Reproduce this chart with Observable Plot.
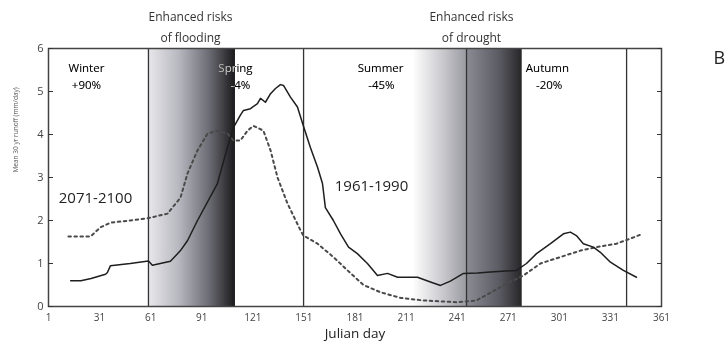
<!DOCTYPE html>
<html>
<head>
<meta charset="utf-8">
<script src="https://cdn.jsdelivr.net/npm/d3@7"></script>
<script src="https://cdn.jsdelivr.net/npm/@observablehq/plot@0.6"></script>
<style>
  body { margin: 0; background: white; }
  #chart svg { display: block; background: white; }
</style>
</head>
<body>
<div id="chart"></div>
<script>
// Julian day and mean 30-yr runoff (mm/day), 1961-1990 (solid)
const baseDays = [14, 20, 26, 34.5, 35.6, 37.4, 49, 59.7, 62, 72.6, 78.5, 82.6, 88.5, 100.2, 106.1, 109.6, 113.7, 115.5, 119.6, 123.7, 125.5, 128.4, 131.4, 134.3, 137.2, 139, 143.1, 147.2, 150.7, 154.8, 159, 161.9, 163.6, 168.3, 172.5, 177.2, 182.4, 188.3, 194.2, 200.1, 206, 217.7, 225.3, 231.2, 237, 244.7, 252.9, 260.5, 275.8, 281.7, 287.6, 295.8, 303.4, 307.5, 311, 315.1, 321, 325.1, 331, 338.6, 346.3];
const baseRunoff = [0.6, 0.6, 0.65, 0.75, 0.79, 0.95, 1.0, 1.06, 0.96, 1.05, 1.3, 1.53, 2.0, 2.86, 3.7, 4.16, 4.45, 4.56, 4.6, 4.72, 4.84, 4.75, 4.95, 5.07, 5.16, 5.14, 4.87, 4.64, 4.2, 3.7, 3.24, 2.86, 2.3, 2.0, 1.69, 1.38, 1.23, 1.0, 0.72, 0.77, 0.68, 0.68, 0.57, 0.49, 0.59, 0.77, 0.78, 0.8, 0.84, 1.0, 1.23, 1.46, 1.69, 1.73, 1.65, 1.46, 1.38, 1.26, 1.03, 0.84, 0.68];

// 2071-2100 (dotted)
const futDays = [12.7, 25.7, 31.5, 37.4, 49.1, 59.1, 70.9, 78.5, 82.6, 88.5, 94.4, 100.2, 106.1, 109.6, 113.7, 117.9, 121.4, 127.2, 131.4, 135.5, 141.3, 149, 150.7, 159, 168.3, 176.6, 186, 196, 207.7, 221.2, 241.2, 252.3, 260.5, 269.9, 279.9, 289.9, 301.6, 313.4, 322.8, 334.5, 342.8, 348.6];
const futRunoff = [1.63, 1.63, 1.84, 1.95, 2.0, 2.05, 2.16, 2.53, 3.09, 3.63, 4.02, 4.09, 4.02, 3.86, 3.86, 4.09, 4.2, 4.09, 3.63, 3.0, 2.4, 1.77, 1.65, 1.46, 1.15, 0.84, 0.5, 0.33, 0.2, 0.14, 0.1, 0.14, 0.32, 0.53, 0.72, 1.0, 1.15, 1.3, 1.38, 1.46, 1.58, 1.67];

const xTicks = [1, 31, 61, 91, 121, 151, 181, 211, 241, 271, 301, 331, 361];
const yTicks = [0, 1, 2, 3, 4, 5, 6];
const seasonLines = [59.7, 150.8, 246.5, 340.5];

const seasonNames = ["Winter", "Spring", "Summer", "Autumn"];
const seasonChanges = ["+90%", "-4%", "-45%", "-20%"];
const seasonX = [23.3, 110.8, 196, 294];
const changeX = [23.3, 113.7, 196.5, 295];

const riskLines1 = ["Enhanced risks", "Enhanced risks"];
const riskLines2 = ["of flooding", "of drought"];
const riskX = [84.4, 249.4];

// shaded risk bands [start, end, gradient id]
const bandStart = [59.7, 215, 246.5];
const bandEnd = [110.8, 246.5, 279.2];
const bandFill = ["url(#gFlood)", "url(#gDry1)", "url(#gDry2)"];

const base = baseDays.map((d, i) => ({day: d, v: baseRunoff[i]}));
const fut = futDays.map((d, i) => ({day: d, v: futRunoff[i]}));
const bands = bandStart.map((s, i) => ({x1: s, x2: bandEnd[i], fill: bandFill[i]}));
const seasons = seasonNames.map((n, i) => ({name: n, change: seasonChanges[i], x: seasonX[i], cx: changeX[i]}));
const risks = riskX.map((x, i) => ({x, a: riskLines1[i], b: riskLines2[i]}));

const font = "'Open Sans', 'Noto Sans', sans-serif";

const svg = Plot.plot({
  width: 726,
  height: 347,
  marginLeft: 48,
  marginRight: 65,
  marginTop: 48,
  marginBottom: 41,
  style: {fontFamily: font, background: "white", overflow: "visible"},
  x: {domain: [1, 361], axis: null},
  y: {domain: [0, 6], axis: null},
  marks: [
    Plot.rect(bands, {x1: "x1", x2: "x2", y1: 0, y2: 6, fill: d => d.fill}),
    Plot.ruleX(seasonLines, {stroke: "#333", strokeWidth: 1.3}),
    Plot.line(fut, {x: "day", y: "v", stroke: "#4a4a4a", strokeWidth: 2, strokeDasharray: "2.5,3.5", curve: "linear"}),
    Plot.line(base, {x: "day", y: "v", stroke: "#1e1e1e", strokeWidth: 1.5, curve: "linear"}),
    Plot.frame({stroke: "#444", strokeWidth: 1.5}),
    Plot.axisX({ticks: xTicks, tickSize: 0, tickPadding: 7, fontSize: 10, fill: "#444", label: null, tickFormat: d => String(d)}),
    Plot.axisY({ticks: yTicks, tickSize: -5, tickPadding: 10, fontSize: 11, fill: "#444", stroke: "#333", label: null, tickFormat: d => String(d)}),
    Plot.axisY({anchor: "right", ticks: yTicks, tickSize: -5, stroke: "#333", tickFormat: () => "", label: null}),
    Plot.text(seasons, {x: "x", y: 5.53, text: "name", fontSize: 11.5, fill: "white", mixBlendMode: "difference"}),
    Plot.text(seasons, {x: "cx", y: 5.14, text: "change", fontSize: 11.5, fill: "white", mixBlendMode: "difference"}),
    Plot.text(risks, {x: "x", y: 6.72, text: "a", fontSize: 12, fill: "#333"}),
    Plot.text(risks, {x: "x", y: 6.23, text: "b", fontSize: 12, fill: "#333"}),
    Plot.text(["2071-2100"], {x: 28.6, y: 2.51, text: d => d, fontSize: 15, fill: "#222"}),
    Plot.text(["1961-1990"], {x: 190.7, y: 2.79, text: d => d, fontSize: 15, fill: "#222"}),
    Plot.text(["B"], {x: 395, y: 5.77, text: d => d, fontSize: 18, fill: "#222"}),
    Plot.text(["Mean 30 yr runoff (mm/day)"], {frameAnchor: "left", dx: -33, dy: -5, rotate: -90, text: d => d, fontSize: 6.5, fill: "#555"}),
    Plot.text(["Julian day"], {frameAnchor: "bottom", dy: 31, text: d => d, fontSize: 13.5, fill: "#222"})
  ]
});

const defs = d3.select(svg).insert("defs", ":first-child");
function grad(id, stops) {
  const g = defs.append("linearGradient").attr("id", id).attr("x1", "0").attr("x2", "1").attr("y1", "0").attr("y2", "0");
  stops.forEach(([o, c]) => g.append("stop").attr("offset", o).attr("stop-color", c));
}
grad("gFlood", [[0, "#e8e8ec"], [0.35, "#b8b8c0"], [0.7, "#6c6c74"], [1, "#1a1a1c"]]);
grad("gDry1", [[0, "#ffffff"], [0.5, "#d0d0d4"], [1, "#9a9aa2"]]);
grad("gDry2", [[0, "#8c8c94"], [0.6, "#5a5a62"], [1, "#262628"]]);

document.getElementById("chart").appendChild(svg);
</script>
</body>
</html>
